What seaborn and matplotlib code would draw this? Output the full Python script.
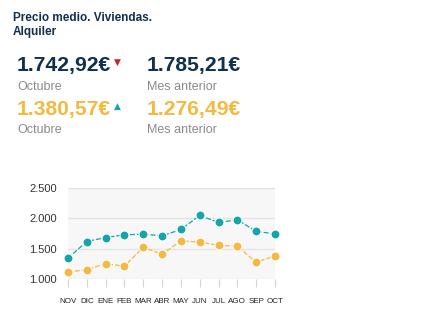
import matplotlib
matplotlib.use("Agg")
import matplotlib.pyplot as plt
import seaborn as sns
import pandas as pd

months = ["NOV", "DIC", "ENE", "FEB", "MAR", "ABR", "MAY", "JUN", "JUL", "AGO", "SEP", "OCT"]
viviendas = [1345, 1618, 1684, 1728, 1739, 1711, 1816, 2048, 1932, 1976, 1785.21, 1742.92]
alquiler = [1116, 1154, 1254, 1210, 1524, 1408, 1629, 1607, 1557, 1540, 1276.49, 1380.57]
yticks = [1000, 1500, 2000, 2500]
ytick_labels = ["1.000", "1.500", "2.000", "2.500"]

TEAL = "#15a5a8"
ORANGE = "#f4b942"
NAVY = "#10304e"
GREY = "#8a8a8a"
RED = "#c8202a"

df = pd.DataFrame({
    "mes": months * 2,
    "valor": viviendas + alquiler,
    "serie": ["Viviendas"] * len(months) + ["Alquiler"] * len(months),
})

sns.set_theme(style="white")
plt.rcParams["font.family"] = ["Liberation Sans", "DejaVu Sans"]

fig = plt.figure(figsize=(4.37, 3.23), dpi=100)
ax = fig.add_axes([68 / 437, 1 - 279 / 323, (275 - 68) / 437, (279 - 188) / 323])
ax.set_facecolor("#f7f7f7")

sns.lineplot(data=df, x="mes", y="valor", hue="serie", hue_order=["Alquiler", "Viviendas"],
             palette={"Viviendas": TEAL, "Alquiler": ORANGE}, sort=False, ax=ax,
             marker="o", markersize=6.5, markeredgecolor="white", markeredgewidth=0.8,
             linewidth=0.9, linestyle=(0, (4, 1.5)), legend=False, clip_on=False, zorder=3)

ax.set_xlim(0, len(months) - 1)
ax.set_ylim(1000, 2500)
ax.set_yticks(yticks)
ax.set_yticklabels(ytick_labels, fontsize=8, color="#333333")
ax.set_xticks(range(len(months)))
ax.set_xticklabels(months, fontsize=5.8, color="#222222")
ax.set_xlabel("")
ax.set_ylabel("")
ax.grid(axis="y", color="#e3e3e3", linewidth=1)
ax.set_axisbelow(True)
for s in ax.spines.values():
    s.set_visible(False)
ax.tick_params(axis="x", bottom=True, length=6, width=0.8, color="#d4d4d4", pad=8)
ax.tick_params(axis="y", left=False, length=0, pad=8)

# header texts
fig.text(13 / 437, 1 - 18 / 323, "Precio medio. Viviendas.", fontsize=8.5, fontweight="bold",
         color=NAVY, va="center", ha="left")
fig.text(13 / 437, 1 - 32 / 323, "Alquiler", fontsize=8.5, fontweight="bold",
         color=NAVY, va="center", ha="left")

fig.text(17 / 437, 1 - 65 / 323, "1.742,92€", fontsize=15.2, fontweight="bold", color=NAVY,
         va="center", ha="left")
fig.text(147 / 437, 1 - 65 / 323, "1.785,21€", fontsize=15.2, fontweight="bold", color=NAVY,
         va="center", ha="left")
fig.text(17 / 437, 1 - 87 / 323, "Octubre", fontsize=9, color=GREY, va="center", ha="left")
fig.text(147 / 437, 1 - 87 / 323, "Mes anterior", fontsize=9, color=GREY, va="center", ha="left")

fig.text(17 / 437, 1 - 109 / 323, "1.380,57€", fontsize=15.2, fontweight="bold", color=ORANGE,
         va="center", ha="left")
fig.text(147 / 437, 1 - 109 / 323, "1.276,49€", fontsize=15.2, fontweight="bold", color=ORANGE,
         va="center", ha="left")
fig.text(17 / 437, 1 - 130 / 323, "Octubre", fontsize=9, color=GREY, va="center", ha="left")
fig.text(147 / 437, 1 - 130 / 323, "Mes anterior", fontsize=9, color=GREY, va="center", ha="left")

fig.text(117 / 437, 1 - 62 / 323, "▼", fontsize=6.5, color=RED, va="center", ha="center",
         family="DejaVu Sans")
fig.text(117 / 437, 1 - 106 / 323, "▲", fontsize=6.5, color=TEAL, va="center", ha="center",
         family="DejaVu Sans")

fig.savefig("out.png", dpi=100)
